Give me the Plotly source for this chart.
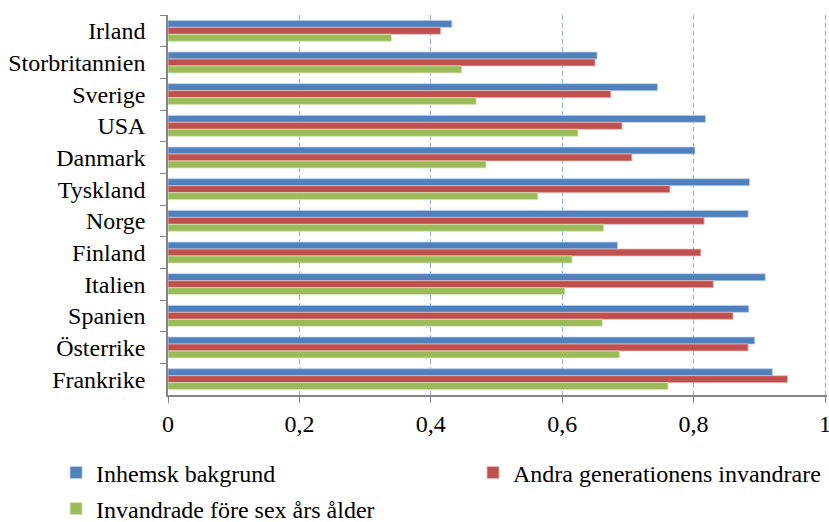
import plotly.graph_objects as go

FONT = "Liberation Serif, Times New Roman, serif"
BLUE = "#4F81BD"
RED = "#C0504D"
GREEN = "#9BBB59"
GRID_COLOR = "#8DB3E2"
AXIS_COLOR = "#868686"

countries = [
    "Irland", "Storbritannien", "Sverige", "USA", "Danmark", "Tyskland",
    "Norge", "Finland", "Italien", "Spanien", "Österrike", "Frankrike",
]
inhemsk = [0.432, 0.653, 0.745, 0.818, 0.802, 0.885,
           0.883, 0.684, 0.909, 0.884, 0.893, 0.920]
andra_gen = [0.415, 0.650, 0.674, 0.691, 0.706, 0.764,
             0.816, 0.811, 0.830, 0.860, 0.883, 0.943]
fore_sex = [0.340, 0.447, 0.469, 0.624, 0.484, 0.563,
            0.663, 0.615, 0.604, 0.661, 0.687, 0.761]

series = [
    ("Inhemsk bakgrund", inhemsk, BLUE, "#B9CDE5", "legend"),
    ("Andra generationens invandrare", andra_gen, RED, "#E6B9B8", "legend2"),
    ("Invandrade före sex års ålder", fore_sex, GREEN, "#D7E4BD", "legend3"),
]

fig = go.Figure()
for name, vals, color, edge, leg in series:
    fig.add_trace(
        go.Bar(
            y=countries,
            x=vals,
            name=name,
            orientation="h",
            marker=dict(color=color, line=dict(color=edge, width=0.8)),
            legend=leg,
            showlegend=True,
        )
    )

# one legend box per entry so the two-row Excel-style layout can be placed;
# container refs keep the legends from pushing the plot margins
legend_common = dict(
    orientation="h",
    xref="container",
    yref="container",
    xanchor="left",
    yanchor="middle",
    font=dict(size=24),
    itemwidth=30,
    bgcolor="rgba(0,0,0,0)",
)

fig.update_layout(
    width=829,
    height=522,
    showlegend=True,
    barmode="group",
    bargap=0.34,
    bargroupgap=0,
    separators=", ",
    paper_bgcolor="white",
    plot_bgcolor="white",
    font=dict(family=FONT, size=24, color="black"),
    margin=dict(l=168, r=2, t=15, b=127),
    xaxis=dict(
        range=[0, 1.003],
        tickvals=[0, 0.2, 0.4, 0.6, 0.8, 1],
        automargin=False,
        ticklabeloverflow="allow",
        showgrid=True,
        gridcolor=GRID_COLOR,
        griddash="5px,3px",
        gridwidth=1,
        zeroline=False,
        showline=True,
        linecolor=AXIS_COLOR,
        linewidth=1.5,
        ticks="outside",
        ticklen=6,
        tickcolor=AXIS_COLOR,
        ticklabelstandoff=0,
    ),
    yaxis=dict(
        autorange="reversed",
        automargin=False,
        showline=True,
        linecolor=AXIS_COLOR,
        linewidth=1.5,
        ticks="outside",
        ticklen=6,
        tickcolor=AXIS_COLOR,
        tickson="boundaries",
        showgrid=False,
        ticklabelstandoff=16,
    ),
    legend=dict(x=0.0676, y=0.094, **legend_common),
    legend2=dict(x=0.5706, y=0.094, **legend_common),
    legend3=dict(x=0.0676, y=0.025, **legend_common),
)

fig.write_html(
    "out.html",
    config={"displayModeBar": False},
    post_script="document.body.style.margin='0';",
)
